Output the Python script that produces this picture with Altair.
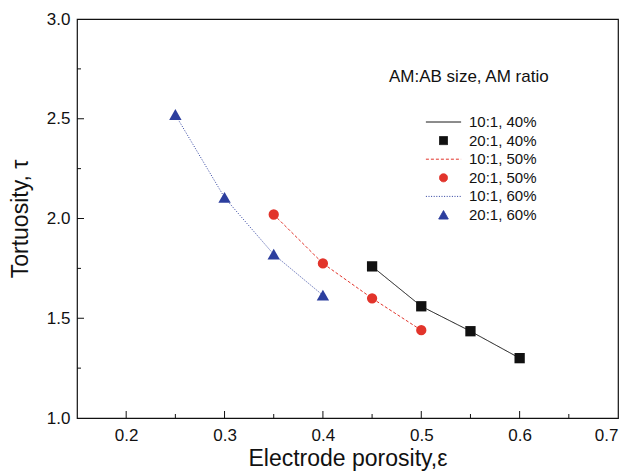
import altair as alt
import pandas as pd

# ---- data ----
series = ["10:1, 40%", "20:1, 40%", "10:1, 50%", "20:1, 50%", "10:1, 60%", "20:1, 60%"]

porosity_40 = [0.45, 0.50, 0.55, 0.60]
tau_40 = [1.76, 1.56, 1.435, 1.30]

porosity_50 = [0.35, 0.40, 0.45, 0.50]
tau_50 = [2.02, 1.775, 1.60, 1.44]

porosity_60 = [0.25, 0.30, 0.35, 0.40]
tau_60 = [2.52, 2.105, 1.82, 1.615]

x_labels = [0.2, 0.3, 0.4, 0.5, 0.6, 0.7]
y_labels = [1.0, 1.5, 2.0, 2.5, 3.0]
x_major = [0.2, 0.3, 0.4, 0.5, 0.6]
x_minor = [0.25, 0.35, 0.45, 0.55, 0.65]
y_major = [1.5, 2.0, 2.5]
y_minor = [1.25, 1.75, 2.25, 2.75]

colors = ["#111111", "#111111", "#e2342b", "#e2342b", "#2c3e9e", "#2c3e9e"]
shapes = ["M-4.4,0H4.4", "M-1,-1H1V1H-1Z", "M-4.4,0H4.4", "circle", "M-4.4,0H4.4",
          "M0,-1.1L1.2,1.0H-1.2Z"]
dashes = [[1, 0], [1, 0], [3, 2], [1, 0], [1, 1.6], [1, 0]]

# ---- tables ----
line_rows, point_rows = [], []
for (lab_line, lab_pt), xs_, ys_ in [
    ((series[0], series[1]), porosity_40, tau_40),
    ((series[2], series[3]), porosity_50, tau_50),
    ((series[4], series[5]), porosity_60, tau_60),
]:
    for a, b in zip(xs_, ys_):
        line_rows.append({"porosity": a, "tau": b, "series": lab_line})
        point_rows.append({"porosity": a, "tau": b, "series": lab_pt})
line_df = pd.DataFrame(line_rows)
point_df = pd.DataFrame(point_rows)

FONT = "Liberation Sans"

x_scale = alt.Scale(domain=[0.15, 0.7], nice=False, zero=False)
y_scale = alt.Scale(domain=[1.0, 3.0], nice=False, zero=False)
color_scale = alt.Scale(domain=series, range=colors)
shape_scale = alt.Scale(domain=series, range=shapes)
dash_scale = alt.Scale(domain=series, range=dashes)

legend = alt.Legend(
    title="AM:AB size, AM ratio",
    orient="none", legendX=312, legendY=50,
    titleFont=FONT, titleFontSize=17, titleFontWeight="normal", titleColor="#111",
    titlePadding=28, titleAnchor="start",
    labelFont=FONT, labelFontSize=15, labelColor="#111",
    symbolSize=64, symbolStrokeWidth=1, symbolOffset=47, labelOffset=18,
    clipHeight=16, rowPadding=2.6, padding=0,
)

PW, PH = 541, 399

x_axis = alt.Axis(values=x_labels, domain=False, grid=False, ticks=False, format=".1f",
                  labelFont=FONT, labelFontSize=17, labelColor="#111", labelPadding=9,
                  title="Electrode porosity,\u03b5", titleFont=FONT, titleFontSize=23,
                  titleFontWeight="normal", titleColor="#111", titlePadding=4)
y_axis = alt.Axis(values=y_labels, domain=False, grid=False, ticks=False, format=".1f",
                  labelFont=FONT, labelFontSize=17, labelColor="#111", labelPadding=7,
                  title="Tortuosity, \u03c4", titleFont=FONT, titleFontSize=23,
                  titleFontWeight="normal", titleColor="#111", titlePadding=14)

lines = alt.Chart(line_df).mark_line(strokeWidth=1).encode(
    x=alt.X("porosity:Q", scale=x_scale, axis=x_axis),
    y=alt.Y("tau:Q", scale=y_scale, axis=y_axis),
    color=alt.Color("series:N", scale=color_scale, legend=legend),
    strokeDash=alt.StrokeDash("series:N", scale=dash_scale, legend=legend),
)

points = alt.Chart(point_df).mark_point(filled=True, size=106, opacity=1).encode(
    x=alt.X("porosity:Q", scale=x_scale, axis=x_axis),
    y=alt.Y("tau:Q", scale=y_scale, axis=y_axis),
    color=alt.Color("series:N", scale=color_scale, legend=legend),
    shape=alt.Shape("series:N", scale=shape_scale, legend=legend),
)


def x_tick_layer(vals, length):
    return alt.Chart(pd.DataFrame({"porosity": vals})).mark_rule(color="#111", strokeWidth=1).encode(
        x=alt.X("porosity:Q", scale=x_scale, axis=x_axis),
        y=alt.value(PH), y2=alt.value(PH - length),
    )


def y_tick_layer(vals, length):
    return alt.Chart(pd.DataFrame({"tau": vals})).mark_rule(color="#111", strokeWidth=1).encode(
        y=alt.Y("tau:Q", scale=y_scale, axis=y_axis),
        x=alt.value(0), x2=alt.value(length),
    )


chart = alt.layer(
    lines, points,
    x_tick_layer(x_major, 7), x_tick_layer(x_minor, 4),
    y_tick_layer(y_major, 7), y_tick_layer(y_minor, 4),
).properties(
    width=PW, height=PH,
    autosize=alt.AutoSizeParams(type="none"),
    padding={"left": 77, "top": 19, "right": 10, "bottom": 53},
    background="white",
).configure_view(stroke="#111", strokeWidth=1.2)

chart.save("out.html", embed_options={"renderer": "svg", "actions": False})
